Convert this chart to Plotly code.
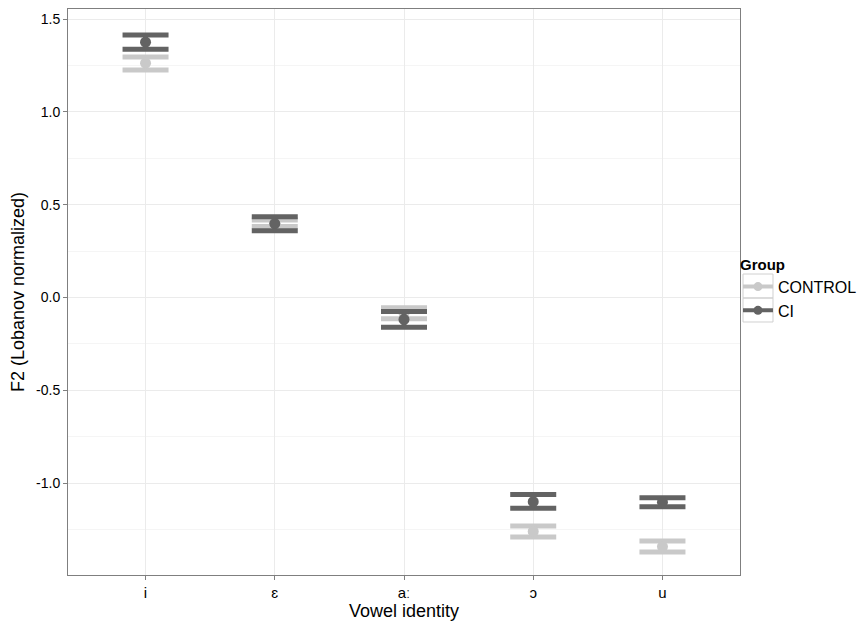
import plotly.graph_objects as go

vowels = ["i", "ɛ", "aː", "ɔ", "u"]
control_mean = [1.262, 0.400, -0.085, -1.260, -1.342]
control_upper = [1.296, 0.417, -0.055, -1.231, -1.312]
control_lower = [1.226, 0.382, -0.115, -1.290, -1.371]
ci_mean = [1.375, 0.398, -0.118, -1.100, -1.103]
ci_upper = [1.414, 0.435, -0.075, -1.061, -1.079]
ci_lower = [1.337, 0.360, -0.161, -1.136, -1.127]
y_ticks = [-1.0, -0.5, 0.0, 0.5, 1.0, 1.5]
y_tick_labels = ["-1.0", "-0.5", "0.0", "0.5", "1.0", "1.5"]

groups = [
    ("CONTROL", control_mean, control_upper, control_lower, "#c9c9c9"),
    ("CI", ci_mean, ci_upper, ci_lower, "#636363"),
]

fig = go.Figure()
for name, m, up, lo, col in groups:
    fig.add_trace(go.Scatter(
        x=vowels, y=m, mode="markers", name=name, showlegend=False,
        marker=dict(color=col, size=11),
        error_y=dict(type="data", symmetric=False,
                     array=[u - v for u, v in zip(up, m)],
                     arrayminus=[v - l for v, l in zip(m, lo)],
                     color=col, thickness=5, width=23),
    ))
for name, m, up, lo, col in groups:
    fig.add_trace(go.Scatter(
        x=[None], y=[None], mode="lines+markers", name=name,
        marker=dict(color=col, size=9), line=dict(color=col, width=4),
    ))

# legend key boxes (ggplot-style)
for y0, y1 in [(0.4894, 0.5318), (0.4470, 0.4894)]:
    fig.add_shape(type="rect", xref="paper", yref="paper",
                  x0=1.0045, x1=1.0491, y0=y0, y1=y1,
                  line=dict(color="#d0d0d0", width=1), fillcolor="rgba(0,0,0,0)")

font = "Liberation Sans, Arial, Helvetica, sans-serif"
fig.update_layout(
    width=857, height=613,
    margin=dict(l=60, r=125, t=1, b=46),
    plot_bgcolor="white", paper_bgcolor="white",
    font=dict(family=font, color="black", size=14),
    legend=dict(title=dict(text="<b>Group</b>", font=dict(size=15)),
                x=0.997, xanchor="left", y=0.505, yanchor="middle",
                bgcolor="rgba(0,0,0,0)",
                font=dict(size=16), tracegroupgap=0, itemwidth=30),
    xaxis=dict(
        title=dict(text="Vowel identity", font=dict(size=18), standoff=0),
        automargin=False,
        range=[-0.6, 4.6], showgrid=True, gridcolor="#ebebeb", gridwidth=1,
        ticks="outside", ticklen=4, tickcolor="#7f7f7f",
        showline=True, linecolor="#7f7f7f", mirror=True, linewidth=1,
        tickfont=dict(size=15), zeroline=False,
    ),
    yaxis=dict(
        title=dict(text="F2 (Lobanov normalized)", font=dict(size=18), standoff=6),
        automargin=False,
        range=[-1.495, 1.554], tickvals=y_ticks, ticktext=y_tick_labels,
        showgrid=True, gridcolor="#ebebeb", gridwidth=1,
        minor=dict(tickvals=[-1.25, -0.75, -0.25, 0.25, 0.75, 1.25],
                   showgrid=True, gridcolor="#f5f5f5", ticks=""),
        ticks="outside", ticklen=4, tickcolor="#7f7f7f",
        showline=True, linecolor="#7f7f7f", mirror=True, linewidth=1,
        tickfont=dict(size=14), zeroline=False,
    ),
)
fig.write_html("out.html")
